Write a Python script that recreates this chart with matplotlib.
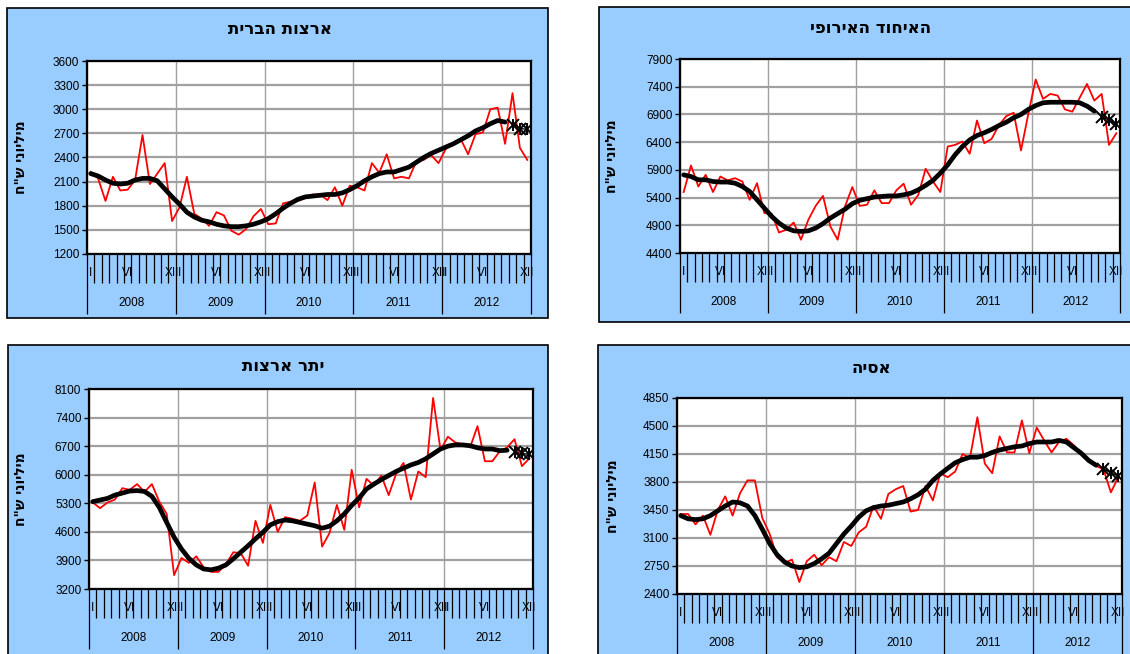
import matplotlib
matplotlib.use('Agg')
import matplotlib.pyplot as plt
import numpy as np
from matplotlib.patches import Rectangle

plt.rcParams['font.family'] = ['Liberation Sans', 'DejaVu Sans']

# monthly values 2008-2012 (million NIS), red line
us_monthly = [2220, 2140, 1860, 2160, 1990, 2000, 2120, 2680, 2070, 2200,
              2330, 1610, 1780, 2160, 1700, 1640, 1550, 1720, 1680, 1490,
              1440, 1510, 1670, 1760, 1570, 1580, 1830, 1850, 1860, 1900,
              1940, 1940, 1870, 2030, 1800, 2050, 2030, 1990, 2330, 2210,
              2440, 2140, 2160, 2140, 2350, 2370, 2430, 2330, 2510, 2570,
              2630, 2440, 2690, 2710, 3000, 3020, 2570, 3200, 2520, 2370]
us_trend = [2200, 2170, 2120, 2080, 2070, 2080, 2120, 2140, 2140, 2110,
            2010, 1910, 1820, 1720, 1660, 1620, 1600, 1570, 1550, 1540,
            1540, 1550, 1570, 1600, 1640, 1700, 1770, 1830, 1880, 1910,
            1920, 1930, 1940, 1940, 1960, 2000, 2050, 2110, 2160, 2200,
            2220, 2220, 2250, 2280, 2340, 2400, 2450, 2490, 2530, 2570,
            2620, 2670, 2730, 2770, 2820, 2860, 2840]
us_forecast = [2810, 2760, 2750]

eu_monthly = [5500, 5980, 5600, 5810, 5500, 5780, 5710, 5750, 5690, 5360,
              5660, 5120, 5110, 4770, 4820, 4950, 4640, 5000, 5250, 5430,
              4880, 4640, 5240, 5590, 5250, 5270, 5530, 5300, 5300, 5530,
              5650, 5270, 5450, 5920, 5690, 5500, 6320, 6350, 6410, 6190,
              6790, 6380, 6460, 6710, 6870, 6930, 6250, 6910, 7530, 7180,
              7270, 7240, 6990, 6950, 7200, 7450, 7150, 7270, 6350, 6560]
eu_trend = [5810, 5780, 5720, 5720, 5690, 5680, 5680, 5660, 5600, 5510,
            5360, 5210, 5060, 4940, 4850, 4800, 4790, 4800, 4850, 4930,
            5030, 5110, 5190, 5290, 5350, 5380, 5410, 5420, 5430, 5430,
            5450, 5480, 5540, 5620, 5710, 5840, 5990, 6170, 6320, 6440,
            6520, 6570, 6630, 6700, 6760, 6840, 6900, 6990, 7060, 7110,
            7120, 7120, 7120, 7120, 7110, 7050, 6960]
eu_forecast = [6860, 6800, 6720]

other_monthly = [5320, 5180, 5320, 5390, 5670, 5630, 5770, 5580, 5770, 5340,
                 5040, 3540, 3960, 3840, 4000, 3730, 3620, 3620, 3810, 4100,
                 4080, 3770, 4870, 4330, 5260, 4600, 4960, 4920, 4870, 5000,
                 5810, 4240, 4570, 5260, 4650, 6120, 5200, 5900, 5730, 5980,
                 5500, 6020, 6290, 5390, 6080, 5940, 7880, 6610, 6930, 6790,
                 6750, 6670, 7190, 6330, 6330, 6570, 6670, 6870, 6210, 6400]
other_trend = [5340, 5380, 5420, 5500, 5550, 5600, 5610, 5590, 5470, 5200,
               4830, 4470, 4180, 3950, 3790, 3690, 3670, 3710, 3790, 3940,
               4100, 4260, 4430, 4590, 4770, 4850, 4890, 4870, 4830, 4790,
               4750, 4690, 4740, 4870, 5040, 5250, 5430, 5650, 5770, 5880,
               5980, 6080, 6160, 6240, 6300, 6390, 6510, 6630, 6700, 6730,
               6730, 6710, 6660, 6630, 6630, 6590, 6600]
other_forecast = [6550, 6520, 6500]

asia_monthly = [3400, 3400, 3270, 3380, 3140, 3450, 3620, 3380, 3660, 3820,
                3820, 3350, 3150, 2860, 2790, 2830, 2550, 2810, 2890, 2760,
                2860, 2810, 3050, 3000, 3170, 3240, 3500, 3340, 3650, 3710,
                3750, 3430, 3450, 3750, 3570, 3910, 3860, 3930, 4150, 4100,
                4610, 4030, 3910, 4370, 4170, 4170, 4570, 4160, 4480, 4320,
                4170, 4300, 4340, 4260, 4160, 4060, 4000, 3960, 3670, 3860]
asia_trend = [3380, 3340, 3330, 3340, 3380, 3440, 3500, 3550, 3540, 3500,
              3380, 3210, 3030, 2890, 2800, 2750, 2730, 2740, 2780, 2840,
              2910, 3030, 3150, 3250, 3360, 3440, 3480, 3500, 3510, 3530,
              3550, 3590, 3640, 3710, 3820, 3900, 3970, 4040, 4080, 4110,
              4110, 4130, 4170, 4200, 4220, 4240, 4250, 4280, 4300, 4300,
              4300, 4320, 4300, 4230, 4160, 4070, 4010]
asia_forecast = [3965, 3915, 3875]

years = ['2008', '2009', '2010', '2011', '2012']
month_marks = {0: 'I', 5: 'VI', 11: 'XII'}
ylabel = 'מיליוני ש"ח'

W, H = 1130, 654
fig = plt.figure(figsize=(11.3, 6.54), dpi=100)
heb = ['DejaVu Sans']


def fx(px):
    return px / W


def fy(py):
    return 1 - py / H


def panel(box, plot, title, title_xy, ylab_x, yticks, monthly, trend, forecast):
    l, t, r, b = box
    fig.patches.append(Rectangle((fx(l), fy(b)), fx(r - l), (b - t) / H,
                                 transform=fig.transFigure, facecolor='#99CCFF',
                                 edgecolor='black', lw=1.2, zorder=0))
    pl, pt, pr, pb = plot
    ax = fig.add_axes([fx(pl), fy(pb), fx(pr - pl), (pb - pt) / H])
    ax.set_zorder(2)
    ax.set_facecolor('white')

    n = len(monthly)
    x = np.arange(n) + 0.5
    ax.plot(x, monthly, color='#FF0000', lw=1.3, zorder=3)
    nt = len(trend)
    ax.plot(x[:nt], trend, color='black', lw=3.4, solid_capstyle='round', zorder=4)
    ax.plot(x[nt:], forecast, color='black', lw=1, marker='x', ms=8, mew=1.4, zorder=5)
    ax.plot(x[nt:], forecast, ls='none', color='black', marker='|', ms=9, mew=1.4, zorder=5)

    ax.set_xlim(0, n)
    ax.set_ylim(yticks[0], yticks[-1])
    ax.set_yticks(yticks)
    ax.set_yticklabels([str(v) for v in yticks])
    ax.tick_params(axis='y', direction='out', length=3.5, width=1, labelsize=8.5, pad=2)

    ax.set_xticks(np.arange(0, n + 1, 12))
    ax.set_xticks(np.arange(0, n + 1), minor=True)
    ax.set_xticklabels([])
    ax.tick_params(axis='x', which='major', direction='out', length=43, width=0.9)
    ax.tick_params(axis='x', which='minor', direction='out', length=21, width=0.9)

    ax.set_axisbelow(True)
    ax.yaxis.grid(True, color='#A0A0A0', lw=1.6)
    ax.xaxis.grid(True, which='major', color='#A0A0A0', lw=1)
    for s in ax.spines.values():
        s.set_color('black')
        s.set_linewidth(1.6)

    trans = ax.get_xaxis_transform()
    for k in range(n):
        lab = month_marks.get(k % 12)
        if lab:
            ax.annotate(lab, xy=(k + 0.5, 0), xycoords=trans, xytext=(0, -14),
                        textcoords='offset points', ha='center', va='center',
                        fontsize=8.5, annotation_clip=False)
    for j, yr in enumerate(years):
        ax.annotate(yr, xy=(12 * j + 6, 0), xycoords=trans, xytext=(0, -35),
                    textcoords='offset points', ha='center', va='center',
                    fontsize=8.5, annotation_clip=False)

    fig.text(fx(title_xy[0]), fy(title_xy[1]), title[::-1], ha='center', va='center',
             fontsize=12, fontweight='bold', family=heb)
    fig.text(fx(ylab_x), fy((pt + pb) / 2), ylabel[::-1], rotation=90, ha='center',
             va='center', fontsize=10, fontweight='bold', family=heb)
    return ax


panel((7, 8, 548, 318), (87, 61, 531, 254), 'ארצות הברית', (280, 29), 21,
      np.arange(1200, 3601, 300), us_monthly, us_trend, us_forecast)
panel((599, 7, 1140, 322), (680, 59, 1120, 253), 'האיחוד האירופי', (871, 28), 612,
      np.arange(4400, 7901, 500), eu_monthly, eu_trend, eu_forecast)
panel((8, 345, 548, 662), (89, 389, 533, 589), 'יתר ארצות', (283, 366), 21,
      np.arange(3200, 8101, 700), other_monthly, other_trend, other_forecast)
panel((598, 345, 1140, 662), (677, 398, 1122, 594), 'אסיה', (871, 368), 613,
      np.arange(2400, 4851, 350), asia_monthly, asia_trend, asia_forecast)

fig.savefig('out.png', dpi=100, facecolor='white')
